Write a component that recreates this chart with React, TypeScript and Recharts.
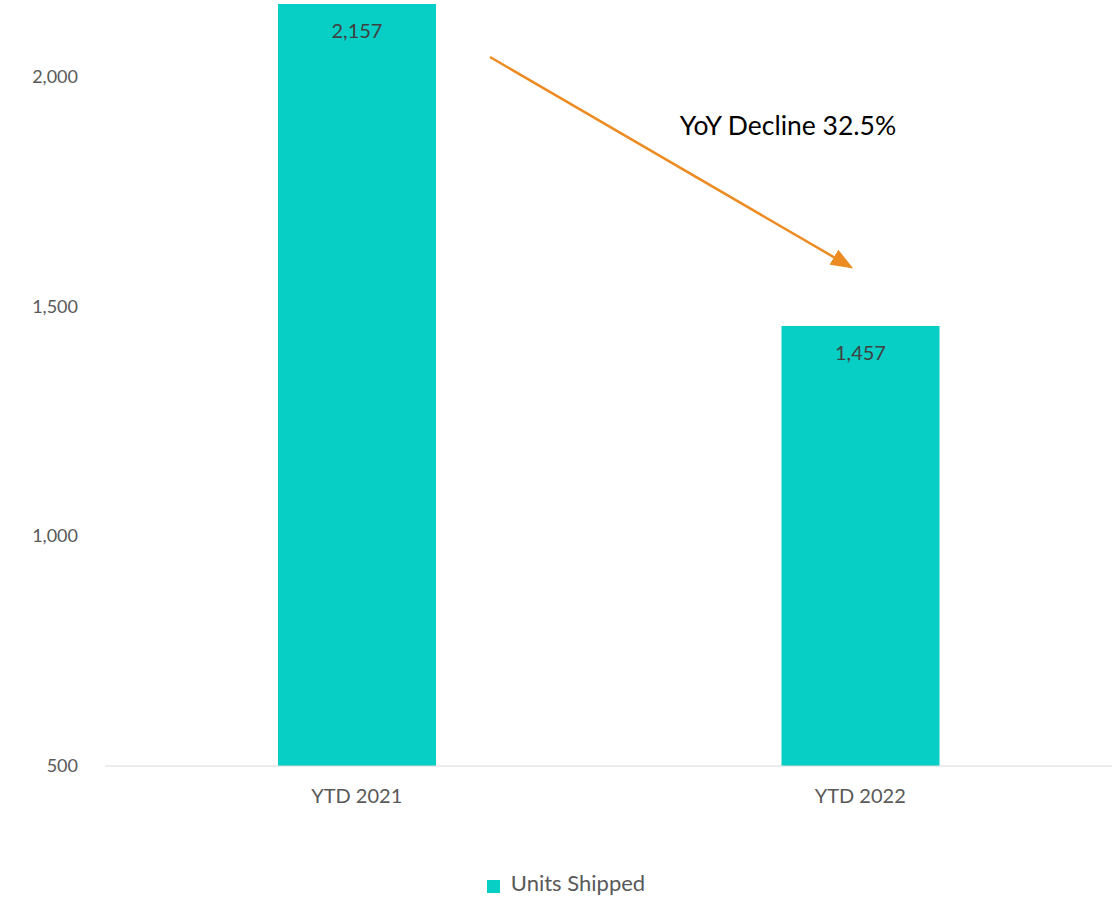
import { BarChart, Bar, XAxis, YAxis, Legend, LabelList } from 'recharts';

const periods = ['YTD 2021', 'YTD 2022'];
const unitsShipped = [2157, 1457];
const yTicks = [500, 1000, 1500, 2000];

const data = periods.map((period, i) => ({ period, units: unitsShipped[i] }));

const font = 'Lato, "Open Sans", sans-serif';

export default function App() {
  return (
    <div style={{ position: 'absolute', left: 0, top: 0, width: 1116, height: 899, background: '#fff', fontFamily: font }}>
      <BarChart width={1116} height={899} data={data} margin={{ top: 4, right: 4, left: 0, bottom: 0 }}>
        <XAxis
          dataKey="period"
          height={100}
          stroke="#d9d9d9"
          tickLine={false}
          tickSize={0}
          tickMargin={23}
          tick={{ fill: '#595959', fontSize: 20, fontFamily: font }}
        />
        <YAxis
          width={105}
          domain={[500, 2157]}
          ticks={yTicks}
          axisLine={false}
          tickLine={false}
          tickSize={0}
          tickMargin={27}
          tickFormatter={(v: number) => v.toLocaleString('en-US')}
          tick={{ fill: '#595959', fontSize: 18, fontFamily: font }}
        />
        <Legend
          verticalAlign="bottom"
          height={30}
          iconType="square"
          iconSize={13}
          wrapperStyle={{ paddingTop: 3, paddingLeft: 15 }}
          formatter={(value: string) => (
            <span style={{ color: '#595959', fontSize: 22, fontFamily: font, paddingLeft: 7 }}>{value}</span>
          )}
        />
        <Bar dataKey="units" name="Units Shipped" fill="#07CFC5" barSize={158} isAnimationActive={false}>
          <LabelList
            dataKey="units"
            position="insideTop"
            offset={20}
            fill="#404040"
            fontSize={20}
            fontFamily={font}
            formatter={(v: number) => v.toLocaleString('en-US')}
          />
        </Bar>
      </BarChart>
      <svg width={1116} height={899} style={{ position: 'absolute', left: 0, top: 0, pointerEvents: 'none' }}>
        <defs>
          <marker id="arrowHead" markerWidth="9" markerHeight="7" refX="7" refY="3.5" orient="auto" markerUnits="strokeWidth">
            <path d="M0,0 L9,3.5 L0,7 Z" fill="#ED8B23" />
          </marker>
        </defs>
        <line x1={490} y1={57} x2={849} y2={266} stroke="#ED8B23" strokeWidth={2.5} markerEnd="url(#arrowHead)" />
        <text x={788} y={135} textAnchor="middle" fontSize={26.5} fill="#000" fontFamily={font}>
          YoY Decline 32.5%
        </text>
      </svg>
    </div>
  );
}
